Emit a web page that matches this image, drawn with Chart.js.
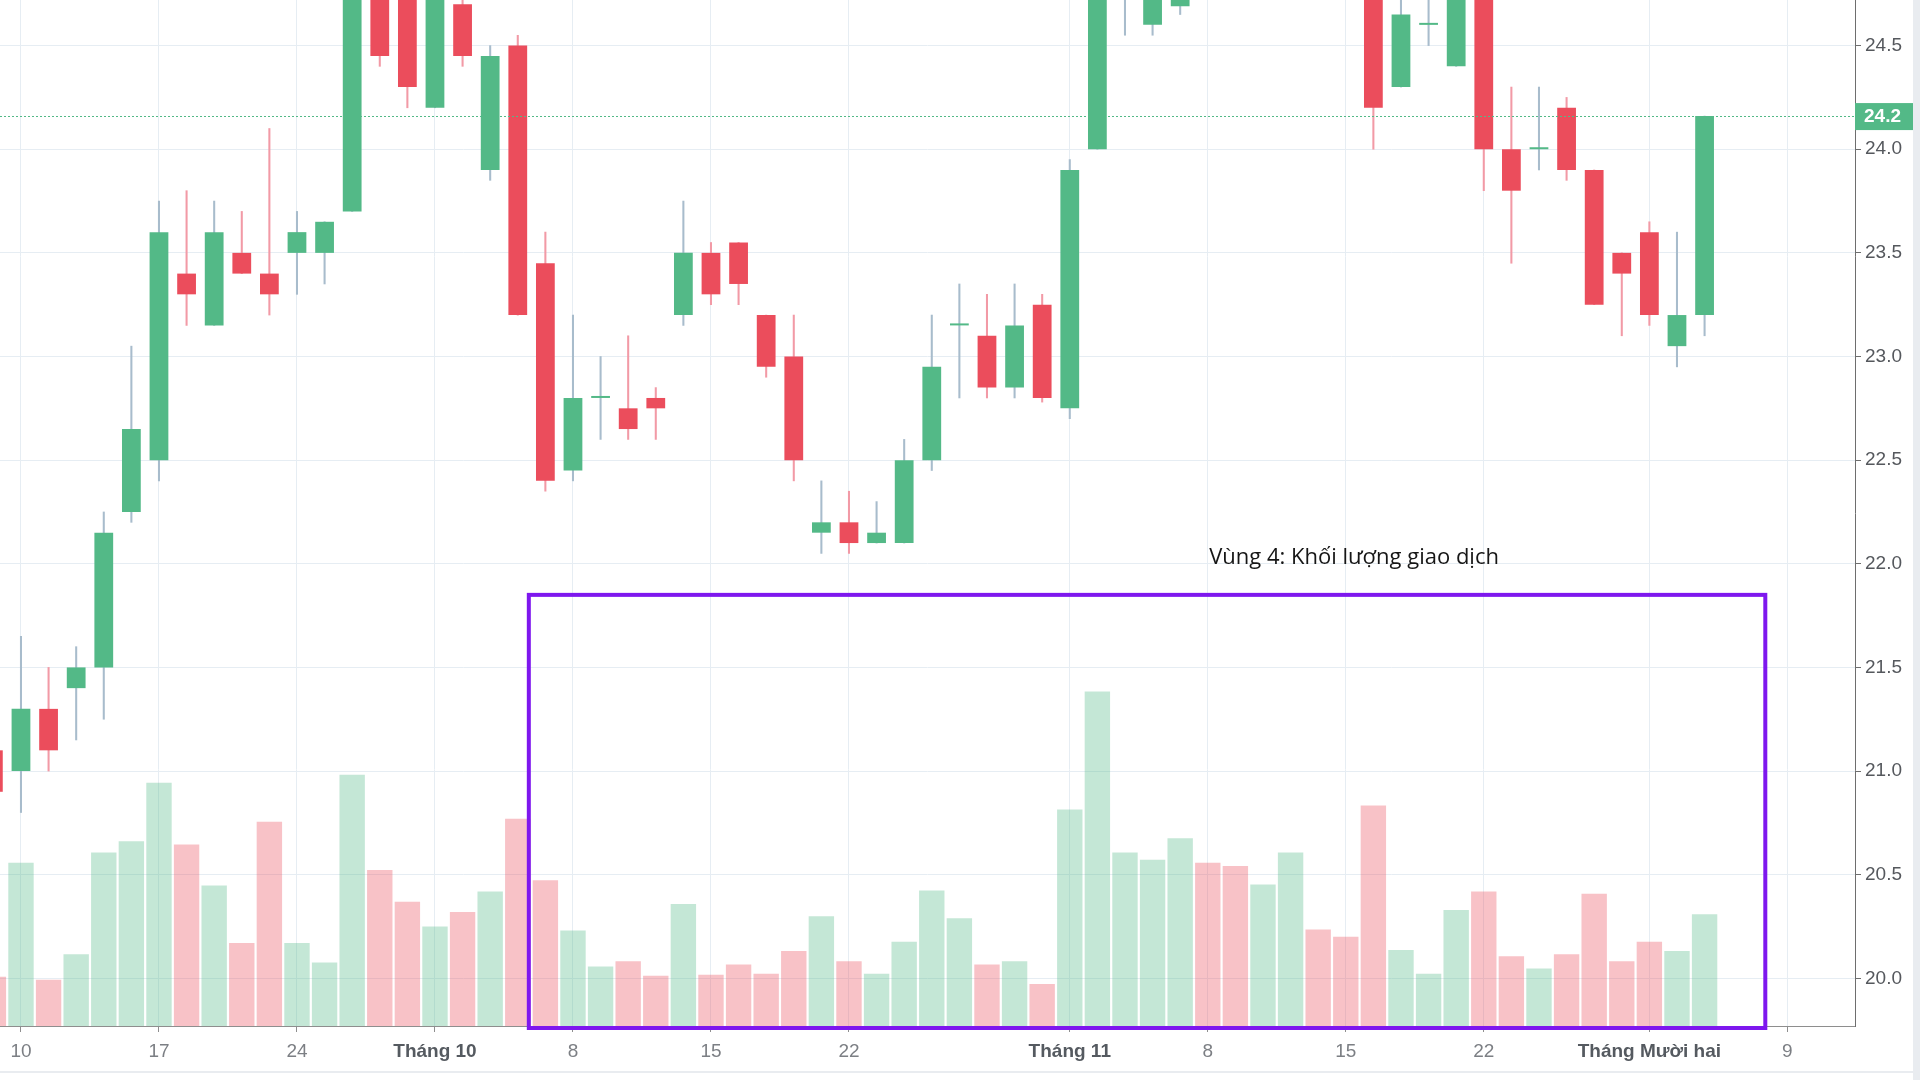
<!DOCTYPE html>
<html lang="vi">
<head>
<meta charset="utf-8">
<title>Vùng 4: Khối lượng giao dịch</title>
<script src="https://cdn.jsdelivr.net/npm/chart.js@4.4.1/dist/chart.umd.min.js"></script>
<style>
  html, body { margin: 0; padding: 0; background: #ffffff; }
  #wrap { width: 1920px; height: 1080px; position: relative; overflow: hidden; }
</style>
</head>
<body>
<div id="wrap"><canvas id="chart" width="1920" height="1080"></canvas></div>
<script>
// trading days are numbered from the "10" tick (day 0); the first candle is day -1
const firstDay = -1;

const opens = [21.10, 21.00, 21.30, 21.40, 21.50, 22.25, 22.50, 23.40, 23.15, 23.50,
  23.40, 23.50, 23.50, 23.70, 24.90, 24.80, 24.20, 24.70, 23.90, 24.50,
  23.45, 22.45, 22.80, 22.75, 22.80, 23.20, 23.50, 23.55, 23.20, 23.00,
  22.15, 22.20, 22.10, 22.10, 22.50, 23.15, 23.10, 22.85, 23.25, 22.75,
  24.00, 24.90, 24.60, 24.69, 25.20, 25.00, 24.85, 25.10, 25.30, 25.05,
  24.90, 24.30, 24.60, 24.40, 24.85, 24.00, 24.00, 24.20, 23.90, 23.50,
  23.60, 23.05, 23.20];
const highs = [21.20, 21.65, 21.50, 21.60, 22.25, 23.05, 23.75, 23.80, 23.75, 23.70,
  24.10, 23.70, 23.65, 25.00, 25.00, 24.90, 24.85, 24.75, 24.50, 24.55,
  23.60, 23.20, 23.00, 23.10, 22.85, 23.75, 23.55, 23.55, 23.20, 23.20,
  22.40, 22.35, 22.30, 22.60, 23.20, 23.35, 23.30, 23.35, 23.30, 23.95,
  25.10, 25.20, 25.00, 25.00, 25.30, 25.10, 25.20, 25.40, 25.35, 25.10,
  25.00, 24.80, 24.80, 24.90, 24.90, 24.30, 24.30, 24.25, 23.90, 23.50,
  23.65, 23.60, 24.16];
const lows = [20.80, 20.80, 21.00, 21.15, 21.25, 22.20, 22.40, 23.15, 23.15, 23.40,
  23.20, 23.30, 23.35, 23.70, 24.40, 24.20, 24.20, 24.40, 23.85, 23.20,
  22.35, 22.40, 22.60, 22.60, 22.60, 23.15, 23.25, 23.25, 22.90, 22.40,
  22.05, 22.05, 22.10, 22.10, 22.45, 22.80, 22.80, 22.80, 22.78, 22.70,
  24.00, 24.55, 24.55, 24.65, 24.90, 24.78, 24.80, 25.00, 25.00, 24.85,
  24.00, 24.30, 24.50, 24.40, 23.80, 23.45, 23.90, 23.85, 23.25, 23.10,
  23.15, 22.95, 23.10];
const closes = [20.90, 21.30, 21.10, 21.50, 22.15, 22.65, 23.60, 23.30, 23.60, 23.40,
  23.30, 23.60, 23.65, 24.90, 24.45, 24.30, 24.80, 24.45, 24.45, 23.20,
  22.40, 22.80, 22.80, 22.65, 22.75, 23.50, 23.30, 23.35, 22.95, 22.50,
  22.20, 22.10, 22.15, 22.50, 22.95, 23.15, 22.85, 23.15, 22.80, 23.90,
  25.00, 25.10, 24.90, 24.95, 24.95, 24.80, 25.10, 25.30, 25.05, 24.90,
  24.20, 24.65, 24.60, 24.85, 24.00, 23.80, 24.00, 23.90, 23.25, 23.40,
  23.20, 23.20, 24.16];
// volume, millions of shares
const volumes = [0.48, 1.59, 0.45, 0.70, 1.69, 1.80, 2.37, 1.77, 1.37, 0.81,
  1.99, 0.81, 0.62, 2.45, 1.52, 1.21, 0.97, 1.11, 1.31, 2.02,
  1.42, 0.93, 0.58, 0.63, 0.49, 1.19, 0.50, 0.60, 0.51, 0.73,
  1.07, 0.63, 0.51, 0.82, 1.32, 1.05, 0.60, 0.63, 0.41, 2.11,
  3.26, 1.69, 1.62, 1.83, 1.59, 1.56, 1.38, 1.69, 0.94, 0.87,
  2.15, 0.74, 0.51, 1.13, 1.31, 0.68, 0.56, 0.70, 1.29, 0.63,
  0.82, 0.73, 1.09];

const tickDays = [0, 5, 10, 15, 20, 25, 30, 38, 43, 48, 53, 59, 64];
const tickLabels = ["10", "17", "24", "Tháng 10", "8", "15", "22", "Tháng 11", "8", "15", "22", "Tháng Mười hai", "9"];
const monthLabels = ["Tháng 10", "Tháng 11", "Tháng Mười hai"];

const noteText = "Vùng 4: Khối lượng giao dịch";

const upColor = "#53b987";
const downColor = "#eb4d5c";
const upWick = "#a8bccc";
const downWick = "#f29aa6";
const upVol = "rgba(83, 185, 135, 0.34)";
const downVol = "rgba(235, 77, 92, 0.34)";
const boxColor = "#7e17ee";

const isUp = k => closes[k] >= opens[k];

const bodies = opens.map((o, k) => ({ x: firstDay + k, y: [o, closes[k]] }));
const wicks = lows.map((l, k) => ({ x: firstDay + k, y: [l, highs[k]] }));
const vols = volumes.map((v, k) => ({ x: firstDay + k, y: v }));

const overlay = {
    id: "overlay",
    afterDatasetsDraw(chart) {
        const { ctx, chartArea, scales } = chart;
        const py = Math.round(scales.y.getPixelForValue(closes[closes.length - 1])) + 0.5;
        ctx.save();
        ctx.strokeStyle = upColor;
        ctx.lineWidth = 1;
        ctx.setLineDash([2, 2]);
        ctx.beginPath();
        ctx.moveTo(chartArea.left, py);
        ctx.lineTo(chartArea.right, py);
        ctx.stroke();
        ctx.restore();
    },
    afterDraw(chart) {
        const { ctx, chartArea, scales } = chart;
        const x = scales.x, y = scales.y;
        ctx.save();

        // frame strips of the screenshot
        ctx.fillStyle = "#e9ecf0";
        ctx.fillRect(1913, 0, 7, 1080);
        ctx.fillRect(0, 1071, 1913, 2);

        // last price tag
        const last = closes[closes.length - 1];
        const py = y.getPixelForValue(last);
        ctx.fillStyle = upColor;
        ctx.fillRect(chartArea.right, py - 13, 58, 27);
        ctx.fillStyle = "#ffffff";
        ctx.font = "bold 19px 'Liberation Sans', Arial, sans-serif";
        ctx.textBaseline = "middle";
        ctx.textAlign = "left";
        ctx.fillText(last.toFixed(1), chartArea.right + 9, py + 1);

        // annotation box around the volume area
        const left = x.getPixelForValue(18.4);
        const right = x.getPixelForValue(63.2);
        const top = y.getPixelForValue(21.85);
        const bottom = chartArea.bottom + 2;
        ctx.strokeStyle = boxColor;
        ctx.lineWidth = 4;
        ctx.strokeRect(left, top, right - left, bottom - top);

        ctx.fillStyle = "#161616";
        ctx.font = "22px 'Open Sans', 'Noto Sans', sans-serif";
        ctx.textAlign = "center";
        ctx.fillText(noteText, x.getPixelForValue(48.3), y.getPixelForValue(22.03));
        ctx.restore();
    }
};

document.addEventListener("DOMContentLoaded", function () {
    new Chart(document.getElementById("chart"), {
        type: "bar",
        plugins: [overlay],
        data: {
            datasets: [
                {
                    label: "Khối lượng",
                    data: vols,
                    yAxisID: "vol",
                    grouped: false,
                    order: 3,
                    barPercentage: 0.92,
                    categoryPercentage: 1,
                    backgroundColor: vols.map((_, k) => isUp(k) ? upVol : downVol)
                },
                {
                    label: "Bóng nến",
                    data: wicks,
                    yAxisID: "y",
                    grouped: false,
                    order: 2,
                    barThickness: 1.4,
                    backgroundColor: wicks.map((_, k) => isUp(k) ? upWick : downWick)
                },
                {
                    label: "Thân nến",
                    data: bodies,
                    yAxisID: "y",
                    grouped: false,
                    order: 1,
                    barPercentage: 0.68,
                    categoryPercentage: 1,
                    minBarLength: 2,
                    backgroundColor: bodies.map((_, k) => isUp(k) ? upColor : downColor)
                }
            ]
        },
        options: {
            responsive: false,
            devicePixelRatio: 1,
            animation: false,
            layout: { padding: 0 },
            plugins: {
                legend: { display: false },
                tooltip: { enabled: false }
            },
            scales: {
                x: {
                    type: "linear",
                    min: -0.76,
                    max: 66.45,
                    offset: false,
                    afterBuildTicks: scale => {
                        scale.ticks = tickDays.map(v => ({ value: v }));
                    },
                    afterFit: scale => {
                        scale.height = 54;
                        scale.paddingLeft = 0;
                        scale.paddingRight = 0;
                    },
                    grid: {
                        offset: false,
                        color: "#e6edf3",
                        tickColor: "#8e8e8e",
                        tickLength: 6
                    },
                    border: { color: "#8e8e8e" },
                    ticks: {
                        autoSkip: false,
                        maxRotation: 0,
                        minRotation: 0,
                        padding: 8,
                        callback: (value, index) => tickLabels[index],
                        color: ctx => monthLabels.includes(tickLabels[ctx.index]) ? "#555a60" : "#7c7f84",
                        font: ctx => ({
                            family: "'Liberation Sans', Arial, sans-serif",
                            size: 19,
                            weight: monthLabels.includes(tickLabels[ctx.index]) ? "bold" : "normal"
                        })
                    }
                },
                y: {
                    type: "linear",
                    position: "right",
                    min: 19.77,
                    max: 24.72,
                    afterFit: scale => {
                        scale.width = 65;
                        scale.paddingTop = 0;
                        scale.paddingBottom = 0;
                    },
                    grid: {
                        color: "#e6edf3",
                        tickColor: "#6e6e6e",
                        tickLength: 6
                    },
                    border: { color: "#6e6e6e" },
                    ticks: {
                        stepSize: 0.5,
                        includeBounds: false,
                        padding: 4,
                        color: "#55585d",
                        font: { family: "'Liberation Sans', Arial, sans-serif", size: 19 },
                        callback: v => v.toFixed(1)
                    }
                },
                vol: {
                    type: "linear",
                    display: false,
                    min: 0,
                    max: 10,
                    grid: { display: false }
                }
            }
        }
    });
});
</script>
</body>
</html>
